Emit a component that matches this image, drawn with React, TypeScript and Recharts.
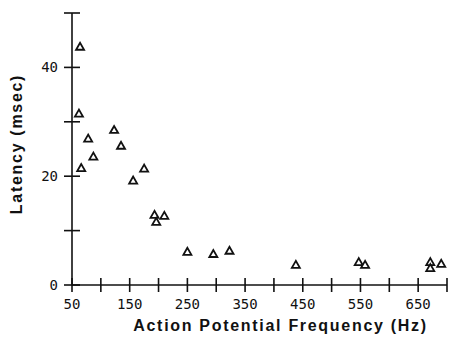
import React from 'react';
import { ScatterChart, Scatter, XAxis, YAxis, Label } from 'recharts';

const frequencyHz = [64, 62, 66, 78, 87, 123, 135, 156, 175, 193, 196, 210, 250, 295, 323, 438, 547, 558, 671, 671, 690];
const latencyMs = [43.8, 31.5, 21.5, 26.9, 23.6, 28.5, 25.6, 19.2, 21.4, 12.9, 11.6, 12.7, 6.1, 5.7, 6.3, 3.7, 4.2, 3.7, 4.2, 3.1, 3.9];

const xTicks = [50, 100, 150, 200, 250, 300, 350, 400, 450, 500, 550, 600, 650, 700];
const xLabeled = [50, 150, 250, 350, 450, 550, 650];
const yTicks = [0, 10, 20, 30, 40, 50];
const yLabeled = [0, 20, 40];

const points = frequencyHz.map((f, i) => ({ f, lat: latencyMs[i] }));

const tickFont = { fontFamily: '"DejaVu Sans Mono", monospace', fontSize: 14, fill: '#111' };
const titleFont = { fontFamily: '"Liberation Sans", Arial, sans-serif', fontSize: 16, fontWeight: 700, fill: '#111', letterSpacing: 1.7 };

function XTick({ x, y, payload }: any) {
  const v = payload.value;
  return (
    <g>
      <line x1={x} x2={x} y1={y - 7} y2={y + 7} stroke="#111" strokeWidth={1.6} />
      {xLabeled.includes(v) && (
        <text x={x} y={y + 24} textAnchor="middle" style={tickFont}>
          {v}
        </text>
      )}
    </g>
  );
}

function YTick({ x, y, payload }: any) {
  const v = payload.value;
  return (
    <g>
      <line x1={x - 8} x2={x + 8} y1={y} y2={y} stroke="#111" strokeWidth={1.6} />
      {yLabeled.includes(v) && (
        <text x={x - 14} y={y + 5} textAnchor="end" style={tickFont}>
          {v}
        </text>
      )}
    </g>
  );
}

function Triangle({ cx, cy }: any) {
  return (
    <polygon
      points={`${cx},${cy - 4} ${cx - 4},${cy + 3} ${cx + 4},${cy + 3}`}
      fill="#fff"
      stroke="#111"
      strokeWidth={1.8}
    />
  );
}

export default function App() {
  return (
    <div style={{ position: 'absolute', left: 0, top: 0, width: 450, height: 343, background: '#fff' }}>
      <ScatterChart width={450} height={343} margin={{ top: 13, right: 3, bottom: 0, left: 0 }}>
        <XAxis
          type="number"
          dataKey="f"
          domain={[50, 700]}
          ticks={xTicks}
          interval={0}
          tickSize={0}
          tickMargin={0}
          tickLine={false}
          tick={<XTick />}
          height={58}
          axisLine={{ stroke: '#111', strokeWidth: 1.6 }}
        >
          <Label value="Action Potential Frequency (Hz)" position="insideBottom" offset={12} dx={21} style={titleFont} />
        </XAxis>
        <YAxis
          type="number"
          dataKey="lat"
          domain={[0, 50]}
          ticks={yTicks}
          interval={0}
          tickSize={0}
          tickMargin={0}
          tickLine={false}
          tick={<YTick />}
          width={72}
          axisLine={{ stroke: '#111', strokeWidth: 1.6 }}
        >
          <Label value="Latency (msec)" angle={-90} position="insideLeft" offset={16} dy={-5} style={{ ...titleFont, textAnchor: 'middle' }} />
        </YAxis>
        <Scatter data={points} shape={<Triangle />} isAnimationActive={false} />
      </ScatterChart>
    </div>
  );
}
